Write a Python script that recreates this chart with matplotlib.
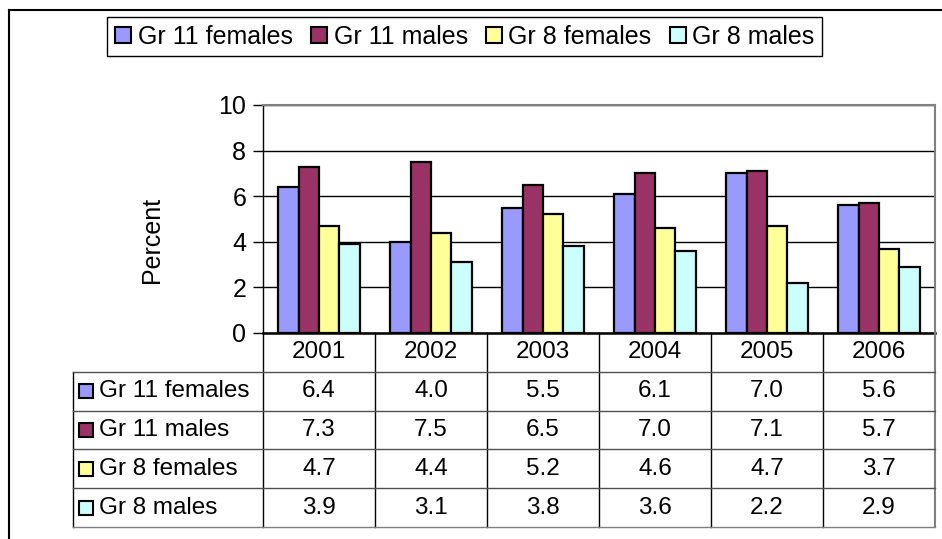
import matplotlib
matplotlib.use("Agg")
import matplotlib.pyplot as plt
from matplotlib.lines import Line2D
import numpy as np

plt.rcParams['font.family'] = ['Liberation Sans', 'DejaVu Sans']

years = ["2001", "2002", "2003", "2004", "2005", "2006"]
series_names = ["Gr 11 females", "Gr 11 males", "Gr 8 females", "Gr 8 males"]
gr11_females = [6.4, 4.0, 5.5, 6.1, 7.0, 5.6]
gr11_males = [7.3, 7.5, 6.5, 7.0, 7.1, 5.7]
gr8_females = [4.7, 4.4, 5.2, 4.6, 4.7, 3.7]
gr8_males = [3.9, 3.1, 3.8, 3.6, 2.2, 2.9]
colors = ["#9999FF", "#993366", "#FFFF99", "#CCFFFF"]
series = [gr11_females, gr11_males, gr8_females, gr8_males]

W, H = 942, 539
FS = 17.5
fig = plt.figure(figsize=(W / 100, H / 100), dpi=100)
fig.patch.set_facecolor("white")

def fx(px):
    return px / W

def fy(py):
    return 1 - py / H

# main plot area
ax = fig.add_axes([fx(263), fy(333), fx(935) - fx(263), fy(105) - fy(333)])
x = np.arange(len(years))
bw = 0.183
for i, (vals, c) in enumerate(zip(series, colors)):
    ax.bar(x + (i - 1.5) * bw, vals, width=bw, color=c, edgecolor="black",
           linewidth=1.6, zorder=3)
ax.set_xlim(-0.5, len(years) - 0.5)
ax.set_ylim(0, 10)
ax.set_yticks(np.arange(0, 11, 2))
ax.set_xticks([])
ax.set_axisbelow(True)
ax.yaxis.grid(True, color="black", linewidth=1)
ax.tick_params(axis="y", direction="out", length=7, width=1, labelsize=18, pad=5)
for s in ["top", "right"]:
    ax.spines[s].set_color("#808080")
    ax.spines[s].set_linewidth(1.5)
ax.spines["left"].set_color("black")
ax.spines["left"].set_linewidth(1)
ax.spines["bottom"].set_color("black")
ax.spines["bottom"].set_linewidth(1.8)
ax.set_ylabel("Percent", fontsize=18)
ax.yaxis.set_label_coords((164 - 263) / 672, (333 - 240) / 228)

# data table
tl, tr, tt, tb = 73, 935, 333, 527
axt = fig.add_axes([fx(tl), fy(tb), fx(tr) - fx(tl), fy(tt) - fy(tb)])
xmin = -0.5 - (263 - 73) / 112
axt.set_xlim(xmin, len(years) - 0.5)
axt.set_ylim(5, 0)
axt.axis("off")
for b in np.arange(-0.5, len(years) - 0.5, 1.0):
    axt.plot([b, b], [0, 5], color="black", lw=1, clip_on=False)
axt.plot([len(years) - 0.5] * 2, [0, 5], color="#808080", lw=1.5, clip_on=False)
axt.plot([xmin, xmin], [1, 5], color="black", lw=1, clip_on=False)
for r in range(1, 6):
    axt.plot([xmin, len(years) - 0.5], [r, r], color="#505050" if r < 5 else "#808080",
             lw=1, clip_on=False)
for j, yr in enumerate(years):
    axt.text(j, 0.5, yr, ha="center", va="center", fontsize=FS)
for r, (name, vals, c) in enumerate(zip(series_names, series, colors)):
    yc = r + 1.5
    axt.plot([xmin + 13 / 112], [yc], marker="s", ms=10.5, mfc=c, mec="black",
             mew=1.5, clip_on=False)
    axt.text(xmin + 26 / 112, yc, name, ha="left", va="center", fontsize=FS)
    for j, v in enumerate(vals):
        axt.text(j, yc, f"{v:.1f}", ha="center", va="center", fontsize=FS)

# legend
handles = [Line2D([], [], linestyle="none", marker="s", ms=11.5, mfc=c, mec="black",
                  mew=1.5) for c in colors]
leg = fig.legend(handles, series_names, loc="upper left",
                 bbox_to_anchor=(fx(107), fy(17)), ncol=4, fontsize=18,
                 frameon=True, fancybox=False, edgecolor="black", framealpha=1,
                 handlelength=0.68, handletextpad=0.25, columnspacing=0.7,
                 borderpad=0.3, borderaxespad=0)
leg.get_frame().set_linewidth(1)

# outer chart border (top and left)
fig.add_artist(Line2D([fx(9), 1], [fy(10), fy(10)], color="black", lw=1.5))
fig.add_artist(Line2D([fx(9), fx(9)], [fy(10), 0], color="black", lw=1.5))

fig.savefig("out.png", dpi=100, facecolor="white")
